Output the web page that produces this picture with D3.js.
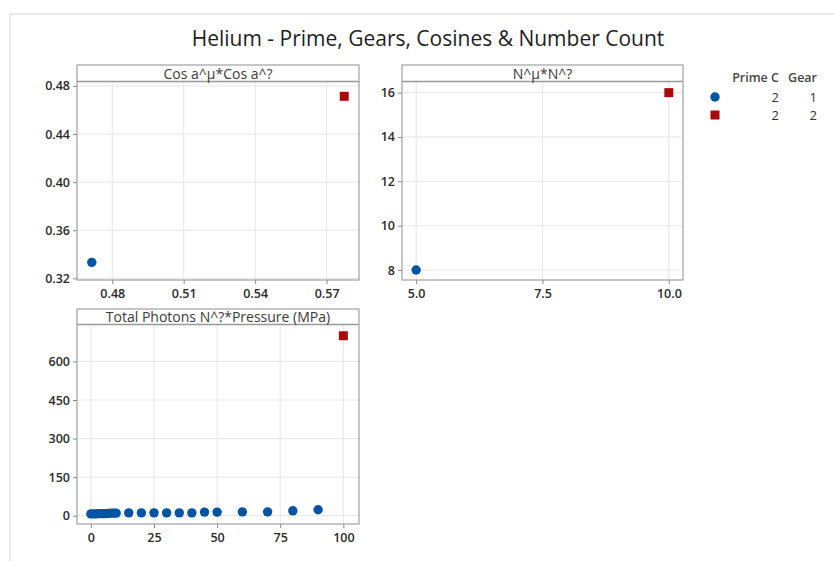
<!DOCTYPE html>
<html>
<head>
<meta charset="utf-8">
<script src="https://cdn.jsdelivr.net/npm/d3@7"></script>
<style>
  body { margin: 0; background: #fff; }
  svg text { font-family: "Open Sans", "Noto Sans", sans-serif; }
  .tick text { font-size: 12.5px; font-weight: 600; fill: #2a2a2a; }
  .tick line { stroke: #888; }
  .domain { display: none; }
</style>
</head>
<body>
<div id="chart"></div>
<script>
// data

var chartTitle = "Helium - Prime, Gears, Cosines & Number Count";

// legend groups: Prime C, Gear
var primeC = [2, 2];
var gears = [1, 2];

// panel 1: Cos a^µ*Cos a^?
var cosX = [0.4714, 0.5774];
var cosY = [0.3333, 0.4714];
var cosGear = [1, 2];

// panel 2: N^µ*N^?
var nX = [5, 10];
var nY = [8, 16];
var nGear = [1, 2];

// panel 3: Total Photons N^?*Pressure (MPa)
var photonX = [0, 1, 2, 3, 4, 5, 6, 7, 8, 9, 10, 15, 20, 25, 30, 35, 40, 45, 50, 60, 70, 80, 90, 100];
var photonY = [7, 7, 7, 8, 8, 8, 8, 9, 10, 10, 10, 11, 11, 11, 11, 11, 11, 14, 14, 15, 15, 19, 23, 700];
var photonGear = [1, 1, 1, 1, 1, 1, 1, 1, 1, 1, 1, 1, 1, 1, 1, 1, 1, 1, 1, 1, 1, 1, 1, 2];

var cosXTicks = [0.48, 0.51, 0.54, 0.57];
var cosYTicks = [0.32, 0.36, 0.40, 0.44, 0.48];
var nXTicks = [5.0, 7.5, 10.0];
var nYTicks = [8, 10, 12, 14, 16];
var photonXTicks = [0, 25, 50, 75, 100];
var photonYTicks = [0, 150, 300, 450, 600];

var svgWidth = 834;
var svgHeight = 561;

var blue = "#0054a6";
var red = "#a80a0a";
var color = d3.scaleOrdinal().domain([1, 2]).range([blue, red]);

var svg = d3.select("#chart")
  .append("svg")
  .attr("width", svgWidth)
  .attr("height", svgHeight);

// light frame round the graph area
svg.append("path")
  .attr("d", `M10,${svgHeight} V14 H${svgWidth}`)
  .attr("fill", "none")
  .attr("stroke", "#e3e3e3")
  .attr("stroke-width", 1.5);

svg.append("text")
  .attr("x", 428)
  .attr("y", 46)
  .attr("text-anchor", "middle")
  .style("font-size", "21px")
  .style("fill", "#1e1e1e")
  .text(chartTitle);

// draws one panel: header strip, grid, ticks and points
function drawPanel(p) {
  var g = svg.append("g");
  var x = d3.scaleLinear().domain(p.xDomain).range([p.left, p.right]);
  var y = d3.scaleLinear().domain(p.yDomain).range([p.bottom, p.plotTop]);

  // grid
  g.selectAll(".vgrid")
    .data(p.xTicks)
    .enter()
    .append("line")
    .attr("x1", d => x(d)).attr("x2", d => x(d))
    .attr("y1", p.plotTop).attr("y2", p.bottom)
    .attr("stroke", "#e6e6e6");
  g.selectAll(".hgrid")
    .data(p.yTicks)
    .enter()
    .append("line")
    .attr("x1", p.left).attr("x2", p.right)
    .attr("y1", d => y(d)).attr("y2", d => y(d))
    .attr("stroke", "#e6e6e6");

  // axes
  g.append("g")
    .attr("transform", `translate(0, ${p.bottom})`)
    .call(d3.axisBottom(x).tickValues(p.xTicks).tickFormat(p.xFormat).tickSize(4).tickPadding(5));
  g.append("g")
    .attr("transform", `translate(${p.left}, 0)`)
    .call(d3.axisLeft(y).tickValues(p.yTicks).tickFormat(p.yFormat).tickSize(4).tickPadding(3));

  // header strip
  g.append("rect")
    .attr("x", p.left).attr("y", p.top)
    .attr("width", p.right - p.left).attr("height", p.plotTop - p.top)
    .attr("fill", "#fff");
  g.append("line")
    .attr("x1", p.left).attr("x2", p.right)
    .attr("y1", p.plotTop - 0.5).attr("y2", p.plotTop - 0.5)
    .attr("stroke", "#999").attr("stroke-width", 1.5);
  g.append("text")
    .attr("x", (p.left + p.right) / 2)
    .attr("y", p.plotTop - 3)
    .attr("text-anchor", "middle")
    .style("font-size", "14px")
    .style("fill", "#3a3a3a")
    .text(p.label);

  // outer border
  g.append("rect")
    .attr("x", p.left).attr("y", p.top)
    .attr("width", p.right - p.left).attr("height", p.bottom - p.top)
    .attr("fill", "none")
    .attr("stroke", "#a0a0a0")
    .attr("stroke-width", 1.2);

  var pts = p.xs.map((v, i) => ({ x: v, y: p.ys[i], gear: p.gear[i] }));

  g.selectAll(".dot")
    .data(pts.filter(d => d.gear === 1))
    .enter()
    .append("circle")
    .attr("cx", d => x(d.x))
    .attr("cy", d => y(d.y))
    .attr("r", 4.7)
    .attr("fill", d => color(d.gear));

  g.selectAll(".sq")
    .data(pts.filter(d => d.gear === 2))
    .enter()
    .append("rect")
    .attr("x", d => x(d.x) - 4.5)
    .attr("y", d => y(d.y) - 4.5)
    .attr("width", 9)
    .attr("height", 9)
    .attr("fill", d => color(d.gear));
}

drawPanel({
  label: "Cos a^\u00b5*Cos a^?",
  left: 77, right: 359, top: 65, plotTop: 82, bottom: 280,
  xDomain: [0.4652, 0.5836], yDomain: [0.3186, 0.4833],
  xTicks: cosXTicks, yTicks: cosYTicks,
  xFormat: d3.format(".2f"), yFormat: d3.format(".2f"),
  xs: cosX, ys: cosY, gear: cosGear
});

drawPanel({
  label: "N^\u00b5*N^?",
  left: 402, right: 683, top: 65, plotTop: 82, bottom: 280,
  xDomain: [4.72, 10.28], yDomain: [7.55, 16.48],
  xTicks: nXTicks, yTicks: nYTicks,
  xFormat: d3.format(".1f"), yFormat: d3.format("d"),
  xs: nX, ys: nY, gear: nGear
});

drawPanel({
  label: "Total Photons N^?*Pressure (MPa)",
  left: 77, right: 359, top: 309, plotTop: 325, bottom: 524,
  xDomain: [-5.5, 106.2], yDomain: [-32.3, 741.8],
  xTicks: photonXTicks, yTicks: photonYTicks,
  xFormat: d3.format("d"), yFormat: d3.format("d"),
  xs: photonX, ys: photonY, gear: photonGear
});

// legend
var legend = svg.append("g");
legend.append("text").attr("x", 779).attr("y", 82).attr("text-anchor", "end")
  .style("font-size", "12.5px").style("font-weight", 600).style("fill", "#444").text("Prime C");
legend.append("text").attr("x", 817).attr("y", 82).attr("text-anchor", "end")
  .style("font-size", "12.5px").style("font-weight", 600).style("fill", "#444").text("Gear");

var rows = legend.selectAll(".row")
  .data(gears)
  .enter()
  .append("g")
  .attr("transform", (d, i) => `translate(0, ${97 + i * 18})`);

rows.filter(d => d === 1).append("circle").attr("cx", 715).attr("cy", 0).attr("r", 4.7).attr("fill", d => color(d));
rows.filter(d => d === 2).append("rect").attr("x", 710.5).attr("y", -4.5).attr("width", 9).attr("height", 9).attr("fill", d => color(d));
rows.append("text").attr("x", 779).attr("y", 5).attr("text-anchor", "end")
  .style("font-size", "13px").style("fill", "#333").text((d, i) => primeC[i]);
rows.append("text").attr("x", 817).attr("y", 5).attr("text-anchor", "end")
  .style("font-size", "13px").style("fill", "#333").text(d => d);
</script>
</body>
</html>
